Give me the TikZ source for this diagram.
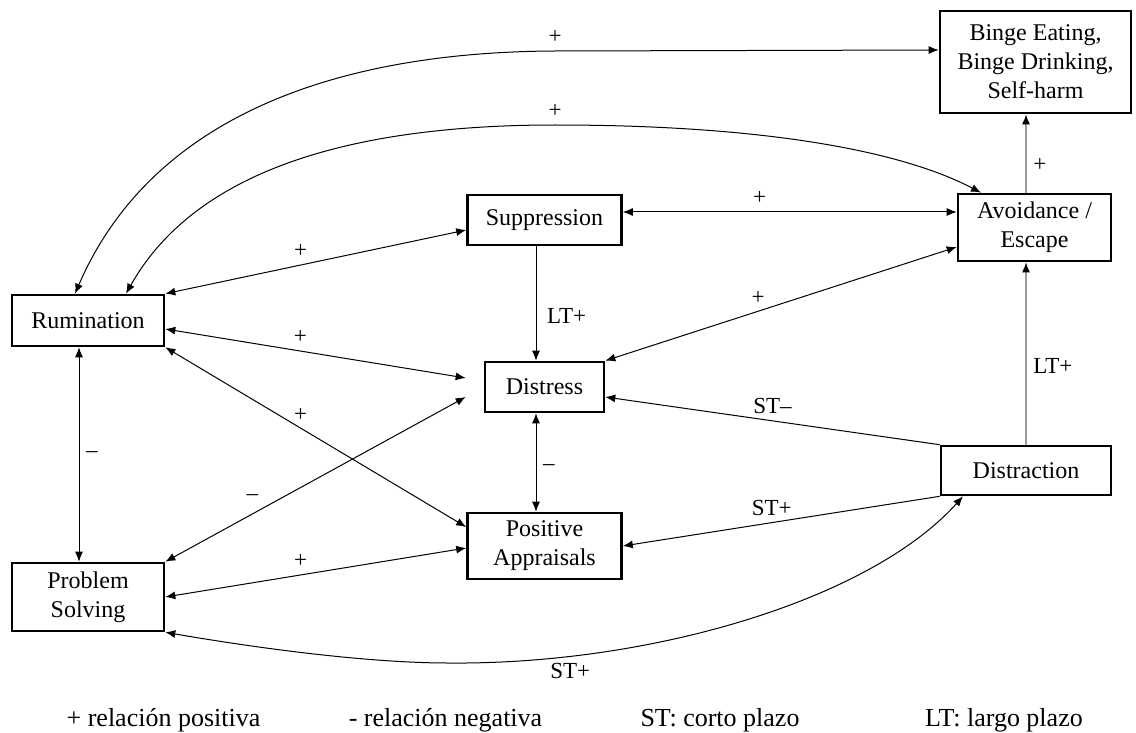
\documentclass[tikz,border=0pt]{standalone}
\usepackage{fontspec}
\setmainfont{Liberation Serif}
\usetikzlibrary{arrows.meta}
\definecolor{lnkgray}{HTML}{9A9A9A}

\begin{document}
\begin{tikzpicture}[
    x=0.5pt, y=-0.5pt,
    box/.style={rectangle, draw=black, line width=1.3pt, inner sep=0pt,
                align=center, font=\fontsize{12}{14.5}\selectfont},
    arr/.style={-{Latex[length=5pt, width=4pt]}, line width=0.5pt},
    biarr/.style={{Latex[length=5pt, width=4pt]}-{Latex[length=5pt, width=4pt]}, line width=0.5pt},
    grayarr/.style={-{Latex[length=5pt, width=4pt, color=black]}, draw=lnkgray, line width=0.7pt},
    lbl/.style={font=\fontsize{11.5}{13}\selectfont},
    legend/.style={font=\fontsize{13}{15}\selectfont}
  ]
    \useasboundingbox (0,0) rectangle (1136,733);

    % boxes
    \node[box, minimum width=95.5pt, minimum height=51pt] (binge) at (1035.5,62) {Binge Eating,\\ Binge Drinking,\\ Self-harm};
    \node[box, minimum width=76.5pt, minimum height=33.5pt] (avoid) at (1034.5,227.5) {Avoidance /\\ Escape};
    \node[box, minimum width=77pt, minimum height=25pt] (supp) at (544.5,220) {Suppression};
    \node[box, minimum width=76pt, minimum height=25.5pt] (rum) at (88,320.5) {Rumination};
    \node[box, minimum width=59.5pt, minimum height=25pt] (distress) at (544.5,387) {Distress};
    \node[box, minimum width=77pt, minimum height=33pt] (pa) at (544.5,546) {Positive\\ Appraisals};
    \node[box, minimum width=76pt, minimum height=34pt] (ps) at (88,597) {Problem\\ Solving};
    \node[box, minimum width=85pt, minimum height=24.5pt] (distr) at (1026,470.5) {Distraction};

    % long arcs from rumination
    \draw[biarr] ([xshift=-6.5pt]rum.north) .. controls (150,120) and (330,52) .. (555,51)
        node[lbl, above] {+} -- ([yshift=6pt]binge.west);
    \draw[biarr] ([xshift=19pt]rum.north) .. controls (190,180) and (330,125) .. (555,125)
        node[lbl, above] {+} .. controls (760,125) and (900,150) .. ([xshift=-26.75pt]avoid.north);

    % links on the left
    \draw[biarr] (rum.north east) -- node[lbl, pos=0.45, above] {+} ([yshift=-5pt]supp.west);
    \draw[biarr] ([yshift=-4.25pt]rum.east) -- node[lbl, pos=0.45, above] {+} ([xshift=-9pt, yshift=4.5pt]distress.west);
    \draw[biarr] (rum.south east) -- node[lbl, pos=0.45, above] {+} ([yshift=9.5pt]pa.west);
    \draw[biarr] (ps.north east) -- node[lbl, pos=0.29, above=3pt] {\textendash} ([xshift=-9pt, yshift=-5pt]distress.west);
    \draw[biarr] (ps.east) -- node[lbl, pos=0.45, above] {+} ([yshift=-1pt]pa.west);
    \draw[biarr] ([xshift=-4.5pt]rum.south) -- node[lbl, right] {\textendash} ([xshift=-4.5pt]ps.north);
    \draw[biarr] (ps.south east) .. controls (280,652) and (380,663) .. (448,663)
        .. controls (650,665) and (870,600) .. ([xshift=-31.5pt]distr.south)
        node[lbl, pos=0.2, below] {ST+};

    % middle column
    \draw[arr] ([xshift=-4.25pt]supp.south) -- node[lbl, pos=0.61, right=2pt] {LT+} ([xshift=-4.25pt]distress.north);
    \draw[biarr] ([xshift=-4.25pt]distress.south) -- node[lbl, pos=0.55, right] {\textendash} ([xshift=-4.25pt]pa.north);
    \draw[biarr] ([yshift=4pt]supp.east) -- node[lbl, pos=0.41, above] {+} ([yshift=7.75pt]avoid.west);
    \draw[biarr] ([yshift=-9.75pt]avoid.west) -- node[lbl, pos=0.565, above] {+} (distress.north east);

    % right side
    \draw[grayarr] (avoid.north -| distr.north) -- node[lbl, pos=0.35, right] {+} (binge.south -| distr.north);
    \draw[grayarr] (distr.north) -- node[lbl, pos=0.43, right] {LT+} (avoid.south -| distr.north);
    \draw[arr] (distr.north west) -- node[lbl, pos=0.5, above] {ST\textendash} ([yshift=-5pt]distress.east);
    \draw[arr] (distr.south west) -- node[lbl, pos=0.53, above] {ST+} (pa.east);

    % legend
    \node[legend] (lgpos) at (163.5,720) {+ relación positiva};
    \node[legend] (lgneg) at (445.5,720) {- relación negativa};
    \node[legend] (lgst) at (720,720) {ST: corto plazo};
    \node[legend] (lglt) at (1004,720) {LT: largo plazo};
\end{tikzpicture}
\end{document}
